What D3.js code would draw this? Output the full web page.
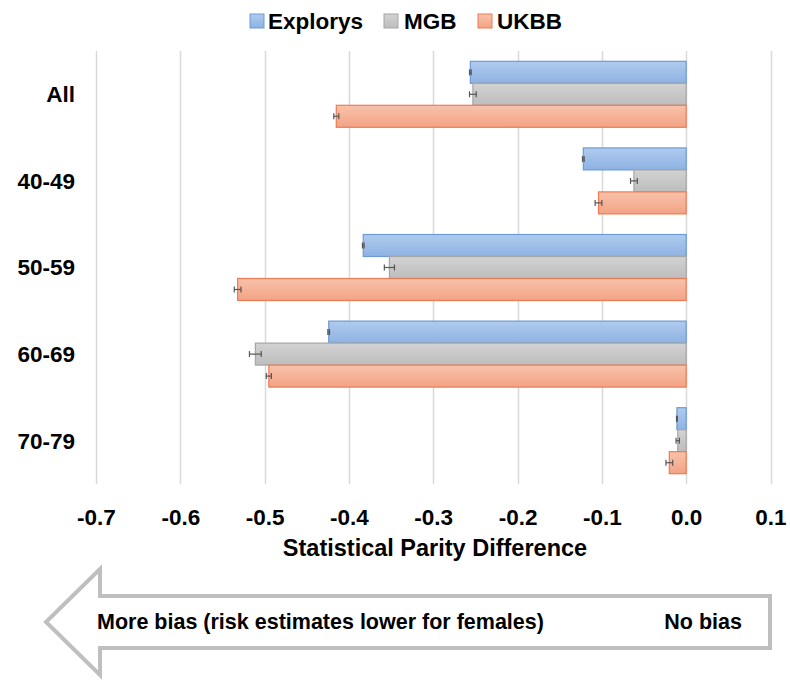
<!DOCTYPE html>
<html>
<head>
<meta charset="utf-8">
<script src="https://cdn.jsdelivr.net/npm/d3@7"></script>
<style>
  html, body { margin: 0; padding: 0; background: #fff; }
  svg text { font-family: "Liberation Sans", Arial, Helvetica, sans-serif; font-weight: bold; fill: #000; }
</style>
</head>
<body>
<svg id="chart" width="790" height="681"></svg>
<script>
// Age groups (top to bottom) and the three cohorts
const categories = ["All", "40-49", "50-59", "60-69", "70-79"];
const seriesNames = ["Explorys", "MGB", "UKBB"];

// Statistical parity difference per cohort, one value per age group
const explorys = [-0.256, -0.122, -0.383, -0.424, -0.011];
const mgb      = [-0.253, -0.062, -0.352, -0.511, -0.010];
const ukbb     = [-0.415, -0.104, -0.532, -0.495, -0.020];

// Half-width of the confidence interval for each bar
const explorysErr = [0.001, 0.001, 0.001, 0.001, 0.0005];
const mgbErr      = [0.004, 0.004, 0.006, 0.007, 0.002];
const ukbbErr     = [0.003, 0.004, 0.004, 0.003, 0.004];

const tickValues = [-0.7, -0.6, -0.5, -0.4, -0.3, -0.2, -0.1, 0.0, 0.1];

const seriesValues = [explorys, mgb, ukbb];
const seriesErrors = [explorysErr, mgbErr, ukbbErr];
const fills = [
  { top: "#b0cbee", bottom: "#8db2e2", stroke: "#6e9bd3" },
  { top: "#d2d2d2", bottom: "#bdbdbd", stroke: "#a6a6a6" },
  { top: "#f8c2ab", bottom: "#f3a384", stroke: "#ec7b55" }
];

const svg = d3.select("#chart");

const plot = { left: 96, right: 770.5, top: 51, bottom: 484 };

const x = d3.scaleLinear().domain([-0.7, 0.1]).range([plot.left, plot.right]);
const y = d3.scaleBand().domain(categories).range([plot.top, plot.bottom])
  .paddingInner(0.238).paddingOuter(0.119);
const ySub = d3.scaleBand().domain(seriesNames).range([0, y.bandwidth()]);

// Gradients for the bar fills
const defs = svg.append("defs");
fills.forEach((f, i) => {
  const g = defs.append("linearGradient").attr("id", "grad" + i)
    .attr("x1", 0).attr("y1", 0).attr("x2", 0).attr("y2", 1);
  g.append("stop").attr("offset", "0%").attr("stop-color", f.top);
  g.append("stop").attr("offset", "100%").attr("stop-color", f.bottom);
});

// Vertical gridlines
svg.append("g").selectAll("line").data(tickValues).join("line")
  .attr("x1", d => Math.round(x(d)) + 0.5).attr("x2", d => Math.round(x(d)) + 0.5)
  .attr("y1", plot.top).attr("y2", plot.bottom)
  .attr("stroke", "#d9d9d9").attr("stroke-width", 1.5);

// Bars
const rows = [];
categories.forEach((c, ci) => {
  seriesNames.forEach((s, si) => {
    rows.push({ cat: c, series: s, si, value: seriesValues[si][ci], err: seriesErrors[si][ci] });
  });
});

const barG = svg.append("g");
barG.selectAll("rect").data(rows).join("rect")
  .attr("x", d => x(Math.min(0, d.value)))
  .attr("y", d => y(d.cat) + ySub(d.series))
  .attr("width", d => Math.abs(x(d.value) - x(0)))
  .attr("height", ySub.bandwidth())
  .attr("fill", d => `url(#grad${d.si})`)
  .attr("stroke", d => fills[d.si].stroke)
  .attr("stroke-width", 1.2);

// Error bars
const errG = svg.append("g").attr("stroke", "#555").attr("stroke-width", 1.2);
rows.forEach(d => {
  const cy = y(d.cat) + ySub(d.series) + ySub.bandwidth() / 2;
  const x1 = x(d.value - d.err), x2 = x(d.value + d.err);
  errG.append("line").attr("x1", x1).attr("x2", x2).attr("y1", cy).attr("y2", cy);
  errG.append("line").attr("x1", x1).attr("x2", x1).attr("y1", cy - 3).attr("y2", cy + 3);
  errG.append("line").attr("x1", x2).attr("x2", x2).attr("y1", cy - 3).attr("y2", cy + 3);
});

// X axis tick labels (plain hyphen for negatives)
const xAxis = d3.axisBottom(x).tickValues(tickValues).tickFormat(d => d.toFixed(1)).tickSize(0).tickPadding(0);
const axG = svg.append("g").attr("transform", `translate(0, 525)`).call(xAxis);
axG.select(".domain").remove();
axG.selectAll("text").attr("font-size", 22.5).attr("dy", 0).attr("y", 0)
  .style("font-family", "'Liberation Sans', Arial, sans-serif").style("font-weight", "bold");

// Category labels
const yAxis = d3.axisLeft(y).tickSize(0).tickPadding(0);
const ayG = svg.append("g").attr("transform", `translate(75, 0)`).call(yAxis);
ayG.select(".domain").remove();
ayG.selectAll("text").attr("font-size", 22.5).attr("dy", "0.35em")
  .style("font-family", "'Liberation Sans', Arial, sans-serif").style("font-weight", "bold");

// Axis title
svg.append("text").attr("x", 435).attr("y", 556).attr("text-anchor", "middle")
  .attr("font-size", 23.5).text("Statistical Parity Difference");

// Legend
const legendItems = [
  { name: "Explorys", sq: 250, tx: 268 },
  { name: "MGB", sq: 384, tx: 404 },
  { name: "UKBB", sq: 478, tx: 497 }
];
const lg = svg.append("g");
legendItems.forEach((it, i) => {
  lg.append("rect").attr("x", it.sq).attr("y", 14).attr("width", 14).attr("height", 14)
    .attr("fill", `url(#grad${i})`).attr("stroke", fills[i].stroke).attr("stroke-width", 1);
  lg.append("text").attr("x", it.tx).attr("y", 29).attr("font-size", 22.5).text(it.name);
});

// Bias direction arrow
const arrowPts = [[46, 622], [100, 569], [100, 596], [770, 596], [770, 648], [100, 648], [100, 675]];
svg.append("polygon").attr("points", arrowPts.map(p => p.join(",")).join(" "))
  .attr("fill", "#fff").attr("stroke", "#bfbfbf").attr("stroke-width", 4).attr("stroke-linejoin", "miter");
svg.append("text").attr("x", 97).attr("y", 629).attr("font-size", 21.5)
  .text("More bias (risk estimates lower for females)");
svg.append("text").attr("x", 742).attr("y", 629).attr("font-size", 21.5).attr("text-anchor", "end")
  .text("No bias");
</script>
</body>
</html>
